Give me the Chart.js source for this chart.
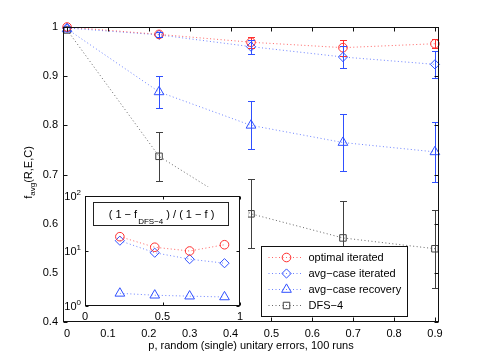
<!DOCTYPE html>
<html>
<head>
<meta charset="utf-8">
<script src="https://cdn.jsdelivr.net/npm/chart.js@4.4.0/dist/chart.umd.min.js"></script>
<style>
  html, body { margin: 0; padding: 0; background: #fff; }
  #wrap { position: relative; width: 485px; height: 363px; }
  #mainChart { position: absolute; left: 0; top: 0; }
  #insetChart { position: absolute; left: 64px; top: 187px; background: #fff; }
</style>
</head>
<body>
<div id="wrap">
  <canvas id="mainChart" width="485" height="363"></canvas>
  <canvas id="insetChart" width="184" height="134"></canvas>
</div>
<script>
// main plot data
const pValues = [0, 0.225, 0.45, 0.675, 0.9];
const optimalIterated = [1.0, 0.985, 0.969, 0.958, 0.966];
const optimalErr = [0, 0.005, 0.011, 0.016, 0.009];
const avgIterated = [0.998, 0.984, 0.960, 0.939, 0.924];
const avgIteratedErr = [0, 0.005, 0.014, 0.022, 0.028];
const avgRecovery = [0.996, 0.868, 0.800, 0.765, 0.746];
const avgRecoveryErr = [0, 0.033, 0.049, 0.058, 0.061];
const dfs4 = [0.994, 0.737, 0.620, 0.571, 0.549];
const dfs4Err = [0, 0.050, 0.070, 0.076, 0.079];
const xTicks = [0, 0.1, 0.2, 0.3, 0.4, 0.5, 0.6, 0.7, 0.8, 0.9];
const yTicks = [0.4, 0.5, 0.6, 0.7, 0.8, 0.9, 1];

// inset data, (1 - f_DFS-4) / (1 - f)
const insetP = [0.225, 0.45, 0.675, 0.9];
const insetOptimal = [18.2, 11.7, 10.0, 13.0];
const insetAvgIterated = [15.4, 9.3, 7.1, 6.0];
const insetAvgRecovery = [1.70, 1.57, 1.51, 1.46];
const insetXTicks = [0, 0.5, 1];
const insetYTicks = [1, 10, 100];

const RED = "#ff3030";
const BLUE = "#3050ff";
const DARK = "#404040";
const FONT = "'Liberation Sans', Arial, Helvetica, sans-serif";

Chart.defaults.font.family = FONT;
Chart.defaults.font.size = 11;
Chart.defaults.color = "#000";

function pts(xs, ys) {
    return xs.map((x, i) => ({x: x, y: ys[i]}));
}

function series(label, ys, errs, color, lineColor, style, radius, xs) {
    return {
        label: label,
        data: pts(xs, ys),
        errors: errs,
        errorColor: color,
        borderColor: lineColor,
        borderWidth: 1,
        borderDash: [1, 2.5],
        pointStyle: style,
        pointRadius: radius,
        pointBorderColor: color,
        pointBackgroundColor: "rgba(0,0,0,0)",
        pointBorderWidth: 1,
        fill: false,
        clip: false,
    };
}

// error bars with small caps
const errorBars = {
    id: "errorBars",
    afterDatasetsDraw(chart) {
        const ctx = chart.ctx;
        const x = chart.scales.x, y = chart.scales.y;
        chart.data.datasets.forEach(ds => {
            if (!ds.errors) return;
            ctx.save();
            ctx.strokeStyle = ds.errorColor;
            ctx.lineWidth = 1;
            ds.data.forEach((pt, j) => {
                const e = ds.errors[j];
                if (!e) return;
                const px = Math.round(x.getPixelForValue(pt.x)) + 0.5;
                const top = Math.round(y.getPixelForValue(pt.y + e)) + 0.5;
                const bot = Math.round(y.getPixelForValue(pt.y - e)) + 0.5;
                ctx.beginPath();
                ctx.moveTo(px, top); ctx.lineTo(px, bot);
                ctx.moveTo(px - 3.5, top); ctx.lineTo(px + 3.5, top);
                ctx.moveTo(px - 3.5, bot); ctx.lineTo(px + 3.5, bot);
                ctx.stroke();
            });
            ctx.restore();
        });
    }
};

// box round the axes with inward ticks on all sides
function drawFrame(chart, xt, yt, len) {
    const ctx = chart.ctx, a = chart.chartArea;
    const x = chart.scales.x, y = chart.scales.y;
    const L = Math.round(a.left) + 0.5, R = Math.round(a.right) - 0.5;
    const T = Math.round(a.top) + 0.5, B = Math.round(a.bottom) - 0.5;
    ctx.save();
    ctx.strokeStyle = "#111";
    ctx.lineWidth = 1;
    ctx.strokeRect(L, T, R - L, B - T);
    ctx.beginPath();
    xt.forEach(v => {
        const px = Math.round(x.getPixelForValue(v)) + 0.5;
        ctx.moveTo(px, B); ctx.lineTo(px, B - len);
        ctx.moveTo(px, T); ctx.lineTo(px, T + len);
    });
    yt.forEach(v => {
        const py = Math.round(y.getPixelForValue(v)) + 0.5;
        ctx.moveTo(L, py); ctx.lineTo(L + len, py);
        ctx.moveTo(R, py); ctx.lineTo(R - len, py);
    });
    ctx.stroke();
    ctx.restore();
}

const mainDecor = {
    id: "mainDecor",
    afterDraw(chart) {
        const ctx = chart.ctx, a = chart.chartArea;
        drawFrame(chart, xTicks, yTicks, 4);

        // y title: f_avg(R,E,C)
        ctx.save();
        ctx.translate(31.5, (a.top + a.bottom) / 2 - 2);
        ctx.rotate(-Math.PI / 2);
        ctx.fillStyle = "#000";
        ctx.textBaseline = "alphabetic";
        ctx.font = "11px " + FONT;
        const wf = ctx.measureText("f").width;
        const wp = ctx.measureText("(R,E,C)").width;
        ctx.font = "8px " + FONT;
        const wa = ctx.measureText("avg").width;
        let x0 = -(wf + wa + wp) / 2;
        ctx.font = "11px " + FONT;
        ctx.fillText("f", x0, 0);
        ctx.font = "8px " + FONT;
        ctx.fillText("avg", x0 + wf, 3);
        ctx.font = "11px " + FONT;
        ctx.fillText("(R,E,C)", x0 + wf + wa, 0);
        ctx.restore();

        // legend box in the lower right
        const bw = 146, bh = 70;
        const bx = Math.round(a.right - 32 - bw) + 0.5;
        const by = Math.round(a.bottom - 6 - bh) + 0.5;
        ctx.save();
        ctx.fillStyle = "#fff";
        ctx.fillRect(bx, by, bw, bh);
        ctx.strokeStyle = "#111";
        ctx.lineWidth = 1;
        ctx.strokeRect(bx, by, bw, bh);
        chart.data.datasets.forEach((ds, i) => {
            const ly = Math.round(by + 10.5 + i * 16.1);
            ctx.save();
            ctx.strokeStyle = ds.borderColor;
            ctx.setLineDash(ds.borderDash);
            ctx.beginPath();
            ctx.moveTo(bx + 7, ly + 0.5);
            ctx.lineTo(bx + 41, ly + 0.5);
            ctx.stroke();
            ctx.restore();
            ctx.strokeStyle = ds.pointBorderColor;
            ctx.fillStyle = "rgba(0,0,0,0)";
            ctx.lineWidth = 1;
            Chart.helpers.drawPoint(ctx, {pointStyle: ds.pointStyle, radius: ds.pointRadius, borderWidth: 1, rotation: 0}, bx + 25, ly + 0.5);
            ctx.fillStyle = "#000";
            ctx.font = "11px " + FONT;
            ctx.textBaseline = "middle";
            ctx.fillText(ds.label, bx + 47, ly + 1);
        });
        ctx.restore();
    }
};

new Chart(document.getElementById("mainChart"), {
    type: "line",
    data: {
        datasets: [
            series("optimal iterated", optimalIterated, optimalErr, RED, "rgba(255,48,48,0.75)", "circle", 4.3, pValues),
            series("avg\u2212case iterated", avgIterated, avgIteratedErr, BLUE, "rgba(48,80,255,0.7)", "rectRot", 4.6, pValues),
            series("avg\u2212case recovery", avgRecovery, avgRecoveryErr, BLUE, "rgba(48,80,255,0.7)", "triangle", 5.6, pValues),
            series("DFS\u22124", dfs4, dfs4Err, DARK, "rgba(64,64,64,0.8)", "rect", 4.6, pValues),
        ]
    },
    options: {
        responsive: false,
        animation: false,
        layout: {padding: {top: 27, right: 46, left: 0, bottom: 0}},
        plugins: {legend: {display: false}, tooltip: {enabled: false}},
        scales: {
            x: {
                type: "linear",
                min: -0.01,
                max: 0.91,
                afterBuildTicks: s => { s.ticks = xTicks.map(v => ({value: v})); },
                afterFit: s => { s.height = 41; },
                grid: {display: false, drawTicks: false},
                border: {display: false},
                ticks: {padding: 5, callback: v => String(Math.round(v * 10) / 10)},
                title: {display: true, text: "p, random (single) unitary errors, 100 runs", font: {size: 11}, padding: {top: 0, bottom: 10}},
            },
            y: {
                min: 0.4,
                max: 1,
                afterBuildTicks: s => { s.ticks = yTicks.map(v => ({value: v})); },
                afterFit: s => { s.width = 63; },
                grid: {display: false, drawTicks: false},
                border: {display: false},
                ticks: {padding: 5, callback: v => String(Math.round(v * 10) / 10)},
            }
        }
    },
    plugins: [errorBars, mainDecor]
});

const insetDecor = {
    id: "insetDecor",
    afterDraw(chart) {
        const ctx = chart.ctx, a = chart.chartArea;
        const y = chart.scales.y;
        drawFrame(chart, insetXTicks, insetYTicks, 3);

        // 10^n labels on the log axis
        ctx.save();
        ctx.fillStyle = "#000";
        ctx.textBaseline = "alphabetic";
        insetYTicks.forEach(v => {
            const py = y.getPixelForValue(v);
            const sup = String(Math.round(Math.log10(v)));
            ctx.font = "8px " + FONT;
            const ws = ctx.measureText(sup).width;
            ctx.font = "11px " + FONT;
            const wb = ctx.measureText("10").width;
            const xr = a.left - 4;
            ctx.fillText("10", xr - ws - wb, py + 4);
            ctx.font = "8px " + FONT;
            ctx.fillText(sup, xr - ws, py - 1);
        });

        // title box: ( 1 - f_DFS-4 ) / ( 1 - f )
        const bx = Math.round(a.left + 7.7) + 0.5, by = Math.round(a.top + 5.7) + 0.5;
        const bw = 135, bh = 23;
        ctx.fillStyle = "#fff";
        ctx.fillRect(bx, by, bw, bh);
        ctx.strokeStyle = "#222";
        ctx.lineWidth = 1;
        ctx.strokeRect(bx, by, bw, bh);
        const p1 = "( 1 \u2212 f", sub = "DFS\u22124", p2 = " ) / ( 1 \u2212 f )";
        ctx.font = "11px " + FONT;
        const w1 = ctx.measureText(p1).width, w2 = ctx.measureText(p2).width;
        ctx.font = "8px " + FONT;
        const ws = ctx.measureText(sub).width;
        let tx = bx + (bw - w1 - ws - w2) / 2;
        const base = by + 15;
        ctx.fillStyle = "#000";
        ctx.font = "11px " + FONT;
        ctx.fillText(p1, tx, base);
        ctx.font = "8px " + FONT;
        ctx.fillText(sub, tx + w1 + 1, base + 6);
        ctx.font = "11px " + FONT;
        ctx.fillText(p2, tx + w1 + ws + 1, base);
        ctx.restore();
    }
};

new Chart(document.getElementById("insetChart"), {
    type: "line",
    data: {
        datasets: [
            series("optimal iterated", insetOptimal, null, RED, "rgba(255,48,48,0.75)", "circle", 4.3, insetP),
            series("avg\u2212case iterated", insetAvgIterated, null, BLUE, "rgba(48,80,255,0.7)", "rectRot", 4.6, insetP),
            series("avg\u2212case recovery", insetAvgRecovery, null, BLUE, "rgba(48,80,255,0.7)", "triangle", 5.6, insetP),
        ]
    },
    options: {
        responsive: false,
        animation: false,
        layout: {padding: {top: 9, right: 8, left: 0, bottom: 0}},
        plugins: {legend: {display: false}, tooltip: {enabled: false}},
        scales: {
            x: {
                type: "linear",
                min: 0,
                max: 1,
                afterBuildTicks: s => { s.ticks = insetXTicks.map(v => ({value: v})); },
                afterFit: s => { s.height = 15; },
                grid: {display: false, drawTicks: false},
                border: {display: false},
                ticks: {padding: 4, callback: v => String(v)},
            },
            y: {
                type: "logarithmic",
                min: 1,
                max: 100,
                afterBuildTicks: s => { s.ticks = insetYTicks.map(v => ({value: v})); },
                afterFit: s => { s.width = 21; },
                grid: {display: false, drawTicks: false},
                border: {display: false},
                ticks: {display: false},
            }
        }
    },
    plugins: [insetDecor]
});
</script>
</body>
</html>
